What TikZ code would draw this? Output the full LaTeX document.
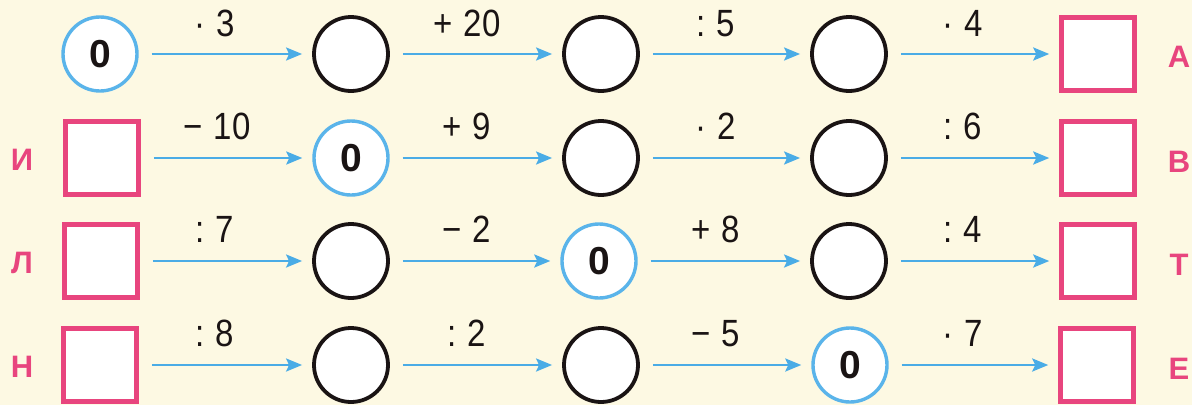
\documentclass[tikz,border=0pt]{standalone}
\usepackage{fontspec}
\setmainfont{Liberation Sans}
\usetikzlibrary{arrows.meta}
\definecolor{bg}{HTML}{FDF9E3}
\definecolor{arrblue}{HTML}{4AACE6}
\definecolor{cblue}{HTML}{5AB4EA}
\definecolor{pinkc}{HTML}{E8457E}
\definecolor{ink}{HTML}{1A1414}
\newcommand{\tallop}[1]{\scalebox{1}[1.15]{#1}}
\tikzset{
  emptyc/.style={circle,draw=ink,line width=3.8pt,fill=white,minimum size=74pt,inner sep=0pt},
  zeroc/.style={circle,draw=cblue,line width=3.4pt,fill=white,minimum size=74pt,inner sep=0pt,font=\fontsize{39}{39}\selectfont\bfseries,text=ink},
  ansbox/.style={rectangle,draw=pinkc,line width=4.5pt,fill=white,minimum size=73pt,inner sep=0pt},
  letr/.style={text=pinkc,font=\fontsize{31}{31}\selectfont\bfseries,inner sep=0pt},
  arr/.style={draw=arrblue,line width=2.6pt,-{Stealth[length=16pt,width=13pt,inset=3pt]},shorten <=13pt,shorten >=10pt},
  oplab/.style={font=\fontsize{33}{33}\selectfont,text=ink,inner sep=0pt,anchor=base}
}
\begin{document}
\begin{tikzpicture}[x=1pt,y=-1pt]
\fill[bg] (0,0) rectangle (1192,405);
\useasboundingbox (0,0) rectangle (1192,405);
% row 1
\node[zeroc] (a1) at (100,54) {0};
\node[emptyc] (a2) at (351,54) {};
\node[emptyc] (a3) at (601,54) {};
\node[emptyc] (a4) at (849,54) {};
\node[ansbox] (a5) at (1098,54) {};
\node[letr] (la) at (1179,57) {А};
% row 2
\node[ansbox] (b1) at (102,158) {};
\node[letr] (lb0) at (22,160) {И};
\node[zeroc] (b2) at (351,158) {0};
\node[emptyc] (b3) at (601,158) {};
\node[emptyc] (b4) at (849,158) {};
\node[ansbox] (b5) at (1098,158) {};
\node[letr] (lb) at (1179,162) {В};
% row 3
\node[ansbox] (c1) at (101,261) {};
\node[letr] (lc0) at (22,263) {Л};
\node[emptyc] (c2) at (351,261) {};
\node[zeroc] (c3) at (599,261) {0};
\node[emptyc] (c4) at (849,261) {};
\node[ansbox] (c5) at (1098,261) {};
\node[letr] (lc) at (1179,265) {Т};
% row 4
\node[ansbox] (d1) at (100,365) {};
\node[letr] (ld0) at (22,367) {Н};
\node[emptyc] (d2) at (351,365) {};
\node[emptyc] (d3) at (601,365) {};
\node[zeroc] (d4) at (850,365) {0};
\node[ansbox] (d5) at (1097,365) {};
\node[letr] (ld) at (1179,369) {Е};
% arrows
\foreach \r in {a,b,c,d}{
  \draw[arr] (\r1) -- (\r2);
  \draw[arr] (\r2) -- (\r3);
  \draw[arr] (\r3) -- (\r4);
  \draw[arr] (\r4) -- (\r5);
}
% labels
\node[oplab] (la1) at (215,36) {\tallop{·\,\,3}};
\node[oplab] (la2) at (467,36) {\tallop{+\,\,20}};
\node[oplab] (la3) at (716,36) {\tallop{:\,\,5}};
\node[oplab] (la4) at (963,36) {\tallop{·\,\,4}};
\node[oplab] (lb1) at (217,139) {\tallop{−\,\,10}};
\node[oplab] (lb2) at (467,139) {\tallop{+\,\,9}};
\node[oplab] (lb3) at (716,139) {\tallop{·\,\,2}};
\node[oplab] (lb4) at (963,139) {\tallop{:\,\,6}};
\node[oplab] (lc1) at (215,242) {\tallop{:\,\,7}};
\node[oplab] (lc2) at (467,242) {\tallop{−\,\,2}};
\node[oplab] (lc3) at (716,242) {\tallop{+\,\,8}};
\node[oplab] (lc4) at (963,242) {\tallop{:\,\,4}};
\node[oplab] (ld1) at (215,346) {\tallop{:\,\,8}};
\node[oplab] (ld2) at (467,346) {\tallop{:\,\,2}};
\node[oplab] (ld3) at (716,346) {\tallop{−\,\,5}};
\node[oplab] (ld4) at (963,346) {\tallop{·\,\,7}};
\end{tikzpicture}
\end{document}
